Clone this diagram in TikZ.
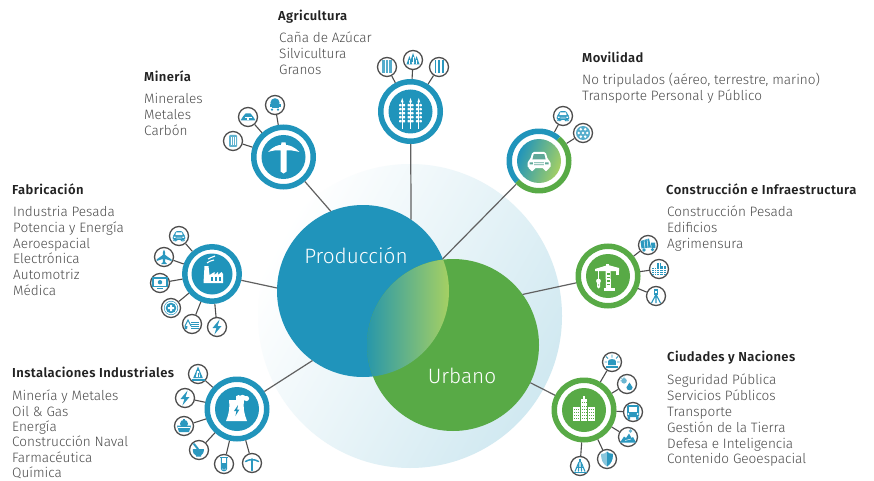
\documentclass[tikz,border=0pt]{standalone}
\usepackage{fontspec}
\setmainfont{Fira Sans}
\newfontfamily\lightf{Fira Sans Light}
\newfontfamily\semif[LetterSpace=3]{Fira Sans SemiBold}
\definecolor{bl}{HTML}{2094BB}
\definecolor{gr}{HTML}{58AA46}
\definecolor{ic}{HTML}{2B98BF}
\definecolor{ink}{HTML}{4C4C4C}
\definecolor{ringc}{HTML}{4D4D4D}
\definecolor{ttl}{HTML}{222222}
\definecolor{lg}{HTML}{A5D063}
\definecolor{mid}{HTML}{5FA898}
\tikzset{
  hubc/.style={circle,fill=white,line width=5.5pt,inner sep=0pt},
  smallc/.style={circle,draw=ringc,fill=white,line width=1.3pt,minimum size=19pt,inner sep=0pt},
  conn/.style={draw=ringc,line width=1.1pt},
  mainconn/.style={draw=black!62,line width=1.2pt},
  ttlnode/.style={anchor=west,inner sep=0pt,yshift=.6pt,text=ttl,font=\semif\fontsize{13}{15}\selectfont},
  txtnode/.style={anchor=north west,inner sep=0pt,align=left,text=ink,font=\lightf\fontsize{13.6}{15.8}\selectfont},
  bigtxt/.style={text=white,inner sep=0pt,font=\lightf\fontsize{20.8}{22}\selectfont},
  % large white icons
  pics/pickaxe/.style={code={
    \fill[white] (-15.5,-5) .. controls (-10,-11) and (-5,-12) .. (-2.5,-12) -- (-2,-14.5) -- (2,-14.5) -- (2.5,-12) .. controls (6,-12) and (11,-10) .. (16,-5) .. controls (10,-6.5) and (6,-7) .. (3,-6.5) -- (3,14.5) -- (0,16.5) -- (-3,14.5) -- (-3,-6.5) .. controls (-7,-7) and (-11,-6.5) .. (-15.5,-5) -- cycle;
  }},
  pics/wheat/.style={code={
    \foreach \s in {-8.3,0,8.3}{
      \draw[white,line width=.7pt] (\s,-10) -- (\s,18);
      \fill[white] (\s-1.5,-9) -- (\s,-13.5) -- (\s+1.5,-9) -- cycle;
      \foreach \r in {-7.5,-3.5,.5,4.5,8.5}{
        \fill[white,rounded corners=.7pt] (\s-3,\r) rectangle (\s-.5,\r+2.5);
        \fill[white,rounded corners=.7pt] (\s+.5,\r) rectangle (\s+3,\r+2.5);
      }
    }
  }},
  pics/factory/.style={code={
    \fill[white] (-7.5,-8) -- (-3.5,-8) -- (-2.5,1) -- (2.5,-2) -- (2.5,1) -- (6,-2) -- (6,1) -- (9.5,-2) -- (11,0) -- (11,9) -- (-8.5,9) -- cycle;
    \foreach \s in {-1.5,2.5,6.5}{\fill[bl] (\s,3) rectangle (\s+2.2,7);}
    \draw[white,line width=1.1pt] (-5,-11) .. controls (-3,-14) and (-1,-12) .. (2,-14);
    \draw[white,line width=1.1pt] (-4,-15) .. controls (-2,-17) and (0,-16) .. (3,-18);
  }},
  pics/tower/.style={code={
    \fill[white] (-8,-9) -- (7,-9) .. controls (6,-2) and (7,5) .. (10,12) -- (-11,12) .. controls (-8,5) and (-7,-2) .. (-8,-9) -- cycle;
    \fill[white] (5.5,-11) circle[radius=3.2pt] (1.5,-11.5) circle[radius=2.4pt] (9.5,-10.5) circle[radius=2.6pt];
    \fill[white] (-1,-13) rectangle (9,-9.5);
    \fill[bl] (1,-4) -- (-3,2) -- (-.6,2) -- (-1.6,7) -- (2.4,.5) -- (.2,.5) -- cycle;
  }},
  pics/crane/.style={code={
    \fill[white] (-13,-7) -- (0,-11) -- (11,-8) -- (11,-5) -- (-13,-5) -- cycle;
    \fill[white] (-2,-12) rectangle (1,-8);
    \fill[white] (-2.5,-5) -- (2.5,-5) -- (3,12) -- (-2,12) -- cycle;
    \foreach \r in {-3,0.5,4,7.5}{\fill[gr] (-1,\r) rectangle (1.5,\r+1.6);}
    \fill[white] (-4.5,12) rectangle (7,14.5);
    \draw[white,line width=.9pt] (-9.5,-5) -- (-9.5,3);
    \fill[white] (-9.5,5) circle[radius=2.4pt];
    \fill[white] (-11,7) -- (-8,7) -- (-8,11) -- (-9.5,12.5) -- (-11,11) -- cycle;
    \fill[gr] (-9.5,9) circle[radius=.6pt];
    \fill[white] (8,-5) rectangle (11,-1);
  }},
  pics/city/.style={code={
    \fill[white] (-11.5,-3) rectangle (-4.5,11);
    \fill[white] (-3.5,-11) rectangle (3,11);
    \fill[white] (-1.5,-14) rectangle (1,-10);
    \fill[white] (4,-3) rectangle (11,11);
    \foreach \s in {-10.5,-8.4,-6.3,-2.4,-.3,1.8,5,7.1,9.2}{
      \foreach \r in {-1,2,5,8}{\fill[gr] (\s,\r) rectangle (\s+.7,\r+1.2);}
    }
    \foreach \s in {-2.4,-.3,1.8}{\foreach \r in {-8,-4.5}{\fill[gr] (\s,\r) rectangle (\s+.7,\r+1.2);}}
  }},
  pics/bigcar/.style={code={\carshape{white}{mid}}},
  % small icons
  pics/scar/.style={code={\begin{scope}[scale=.55]\carshape{ic}{white}\end{scope}}},
  pics/swheat/.style={code={
    \foreach \s in {-3.6,0,3.6}{\draw[ic!80,line width=2.8pt,dash pattern=on 1.5pt off .5pt] (\s,-6.5) -- (\s,6.5);}
  }},
  pics/strees/.style={code={
    \fill[ic] (-3.6,-4) -- (-.6,4.5) -- (-6.6,4.5) -- cycle;
    \fill[ic] (3.6,-4) -- (6.6,4.5) -- (.6,4.5) -- cycle;
    \fill[ic] (0,-7) -- (3,2) -- (-3,2) -- cycle;
    \draw[white,line width=.5pt] (-3.6,0) -- (-3.6,4.5) (3.6,0) -- (3.6,4.5) (0,-3) -- (0,2);
  }},
  pics/sstalk/.style={code={
    \foreach \s in {-3.6,0,3.6}{\draw[ic,line width=1.8pt,dash pattern=on 1.5pt off .5pt] (\s,-6.5) -- (\s,6.5);}
  }},
  pics/sore/.style={code={
    \fill[ic!75,rounded corners=1pt] (-4,-6) rectangle (4,6);
    \draw[white,line width=.5pt] (-2,-4) -- (-2,4) (0,-4) -- (0,4) (2,-4) -- (2,4);
  }},
  pics/spile/.style={code={
    \fill[ic] (-7.5,3.5) -- (-5,-.5) -- (-2.5,-3.5) -- (2.5,-3.5) -- (5,-.5) -- (7.5,3.5) -- cycle;
    \fill[white] (-.8,.5) rectangle (.8,3.5);
    \fill[white] (-3.5,-.3) rectangle (3.5,.6);
  }},
  pics/scart/.style={code={
    \fill[ic] (0,-2.2) circle[radius=4.6pt];
    \fill[ic] (-5.5,-.5) rectangle (5.5,1.8);
    \fill[ic] (-3.5,1.8) rectangle (3.5,3.5);
    \fill[ic] (-3,4.6) circle[radius=1.2pt] (3,4.6) circle[radius=1.2pt];
  }},
  pics/smonitor/.style={code={
    \draw[ic,line width=1.2pt] (-7,-5) rectangle (7,3.5);
    \draw[ic,line width=1.2pt] (-3,5.8) -- (3,5.8);
    \fill[ic] (0,-.8) circle[radius=2.2pt];
  }},
  pics/splane/.style={code={
    \fill[ic] (0,-7.5) .. controls (1.4,-6) and (1.2,-3) .. (1.2,-2) -- (7.5,2.5) -- (7.5,4) -- (1.2,2) -- (1,5) -- (3,7) -- (-3,7) -- (-1,5) -- (-1.2,2) -- (-7.5,4) -- (-7.5,2.5) -- (-1.2,-2) .. controls (-1.2,-3) and (-1.4,-6) .. (0,-7.5) -- cycle;
  }},
  pics/smed/.style={code={
    \draw[ic,line width=.5pt] (0,0) circle[radius=6.8pt];
    \fill[ic] (0,0) circle[radius=5.3pt];
    \fill[white] (-1,-3.2) rectangle (1,3.2) (-3.2,-1) rectangle (3.2,1);
  }},
  pics/sdig/.style={code={
    \fill[ic] (-1,-2) rectangle (7,4.5);
    \foreach \r in {-.8,1,2.8}{\fill[white] (-1,\r) rectangle (7,\r+.6);}
    \draw[ic,line width=1.1pt] (-1,2) -- (-4,-4) -- (-7,2);
    \fill[ic] (-7.5,2) -- (-4.5,2) -- (-5,5) -- (-7.5,5) -- cycle;
  }},
  pics/sbolt/.style={code={
    \fill[ic] (2.6,-7.5) -- (-4.5,1) -- (-.6,1) -- (-2.6,7.5) -- (4.5,-1) -- (.6,-1) -- cycle;
  }},
  pics/sderrick/.style={code={
    \fill[ic] (0,-7.5) -- (4.8,4) -- (-4.8,4) -- cycle;
    \fill[white] (-.9,-3) -- (.9,-3) -- (2.1,3) -- (-2.1,3) -- cycle;
    \fill[ic] (-.4,-1.5) rectangle (.4,3);
    \fill[ic] (-6.5,4.5) rectangle (6.5,6.5);
  }},
  pics/sship/.style={code={
    \fill[ic] (0,-2.2) circle[radius=4pt];
    \fill[ic] (-1,-7.5) rectangle (1,-4);
    \fill[ic] (-7,-.5) -- (7,-.5) -- (5,6) -- (-5,6) -- cycle;
    \draw[white,line width=.5pt] (-6,1.5) -- (6,1.5);
  }},
  pics/smortar/.style={code={
    \fill[ic] (-6.2,-1) -- (5,-1) .. controls (5,3) and (3,5) .. (2,5.5) -- (2,6.5) -- (-3,6.5) -- (-3,5.5) .. controls (-5,5) and (-6.2,3) .. (-6.2,-1) -- cycle;
    \draw[ic,line width=2pt,line cap=round] (-1,-1) -- (-5,-6);
  }},
  pics/stube/.style={code={
    \draw[ic,line width=1pt] (-2.6,-6.5) -- (-2.6,4.5) .. controls (-2.6,7.5) and (2.6,7.5) .. (2.6,4.5) -- (2.6,-6.5);
    \draw[ic,line width=1pt] (-3.6,-6.5) -- (3.6,-6.5);
    \fill[ic] (-1.9,-1) -- (1.9,-1) -- (1.9,4.3) .. controls (1.9,6.5) and (-1.9,6.5) .. (-1.9,4.3) -- cycle;
  }},
  pics/spick/.style={code={
    \draw[ic,line width=1.5pt,line cap=round] (0,-4) -- (0,7.5);
    \draw[ic,line width=1.5pt,line cap=round] (-6.5,-1.5) .. controls (-3,-4) and (3,-4) .. (6.5,-1.5);
  }},
  pics/sfrost/.style={code={
    \fill[ic!80] (0,0) circle[radius=7pt];
    \foreach \a in {0,60,...,300}{\fill[white] (\a:4.3pt) circle[radius=1.4pt];}
    \fill[white] (0,0) circle[radius=1.4pt];
  }},
  pics/struck/.style={code={
    \fill[ic] (-7.5,-4) -- (1,-6.5) -- (3,2.5) -- (-6.5,3.5) -- cycle;
    \fill[ic] (3,-2.5) -- (7,-2.5) -- (7.5,3) -- (3.5,3) -- cycle;
    \draw[white,line width=.5pt] (-4,-5) -- (-3,3.5) (-1,-6) -- (0,3);
    \fill[ic] (-4,5) circle[radius=1.8pt] (4.5,4.6) circle[radius=1.8pt];
  }},
  pics/sbars/.style={code={
    \foreach \s/\t in {-7/-1,-2.3/-6,2.4/-3}{
      \fill[ic] (\s,\t) rectangle (\s+4.3,6);
      \draw[white,line width=.35pt] (\s+2.15,\t) -- (\s+2.15,6);
      \foreach \r in {0,2.2,4.4}{\draw[white,line width=.35pt] (\s,\r) -- (\s+4.3,\r);}
    }
  }},
  pics/ssurvey/.style={code={
    \fill[ic] (-2.2,-7) rectangle (2.2,-1.5);
    \fill[white] (-.9,-5.5) rectangle (.9,-3.5);
    \draw[ic,line width=1.1pt] (0,-1.5) -- (-4.5,7) (0,-1.5) -- (4.5,7) (0,-1.5) -- (0,7);
  }},
  pics/ssiren/.style={code={
    \fill[ic] (-3.8,3) -- (-3.8,-1) .. controls (-3.8,-3.5) and (3.8,-3.5) .. (3.8,-1) -- (3.8,3) -- cycle;
    \fill[ic] (-6,3.5) rectangle (6,5.6);
    \draw[ic,line width=.8pt] (0,-4.5) -- (0,-7.5) (-4,-3.5) -- (-6,-5.5) (4,-3.5) -- (6,-5.5) (-5,0) -- (-7.5,0) (5,0) -- (7.5,0);
  }},
  pics/sdrop/.style={code={
    \fill[ic!70] (-3,-3.2) circle[radius=2.8pt];
    \draw[ic!70,line width=.6pt] (-3,-6.2) -- (-3,-7.6) (-6,-3.2) -- (-7.2,-3.2) (-5.2,-5.4) -- (-6.2,-6.4);
    \fill[ic] (2.5,-1.5) -- (5.6,3.4) .. controls (5.6,7.2) and (-.6,7.2) .. (-.6,3.4) -- cycle;
  }},
  pics/sbus/.style={code={
    \fill[ic,rounded corners=1.2pt] (-6,-7) rectangle (6,5);
    \fill[white] (-4.4,-4.8) rectangle (4.4,-.3);
    \fill[white] (-4.6,2) circle[radius=1pt] (4.6,2) circle[radius=1pt];
    \fill[ic] (-5.5,5) rectangle (-3,7.5) (3,5) rectangle (5.5,7.5);
  }},
  pics/smount/.style={code={
    \fill[ic] (-8,5.5) -- (-4,-.5) -- (-2,1) -- (1,-3.5) -- (3.5,1) -- (5,0) -- (8,5.5) -- cycle;
    \fill[ic!70] (2.5,-6) circle[radius=1.8pt];
    \draw[white,line width=.5pt] (-3,3.5) -- (3,2);
  }},
  pics/sshield/.style={code={
    \fill[ic!55] (-6,-5) .. controls (-3,-5) and (-1,-6) .. (0,-7.5) .. controls (1,-6) and (3,-5) .. (6,-5) .. controls (6,1) and (4,5) .. (0,7.5) .. controls (-4,5) and (-6,1) .. (-6,-5) -- cycle;
    \fill[ic] (0,-7.5) .. controls (1,-6) and (3,-5) .. (6,-5) .. controls (6,1) and (4,5) .. (0,7.5) -- cycle;
  }},
  pics/sdish/.style={code={
    \fill[ic] (-1,-7) rectangle (1,-4);
    \fill[ic] (-6.5,5.5) rectangle (6.5,7);
    \draw[ic,line width=1.1pt] (-1,-4) -- (-5,5.5) (1,-4) -- (5,5.5) (-1,-4) -- (-1.6,5.5) (1,-4) -- (1.6,5.5);
    \draw[ic,line width=.6pt] (-4.4,1.5) -- (4.4,1.5);
  }},
}
\newcommand{\carshape}[2]{%
  \fill[#1,rounded corners=1.5pt] (-8.8,-1.5) -- (-6.6,-9) -- (6.6,-9) -- (8.8,-1.5) -- (11.5,.5) -- (11.5,7) -- (8.8,7) -- (8.8,10) -- (5,10) -- (5,7) -- (-5,7) -- (-5,10) -- (-8.8,10) -- (-8.8,7) -- (-11.5,7) -- (-11.5,.5) -- cycle;
  \fill[#2] (-5.3,-6.8) -- (5.3,-6.8) -- (6.6,-1.6) -- (-6.6,-1.6) -- cycle;
  \fill[#2] (-9.5,1.3) rectangle (-6.2,3.4) (9.5,1.3) rectangle (6.2,3.4);
  \fill[#2] (-4.8,1.5) rectangle (4.8,2.2) (-4.8,3.4) rectangle (4.8,4.1);
}
\newcommand{\hubdraw}[7]{% name,x,y,colour,outer radius,disc radius,icon
  \node[hubc,draw=#4,minimum size={2*#5pt-5.5pt}] (#1) at (#2,#3) {};
  \fill[#4] (#1) circle[radius=#6pt];
  \pic at (#1) {#7};
}
\newcommand{\smallhub}[5]{% name,x,y,icon,hub
  \node[smallc] (#1) at (#2,#3) {};
  \pic at (#1) {#4};
  \draw[conn] (#5) -- (#1);
}
\begin{document}
\begin{tikzpicture}[x=1pt,y=-1pt]
\useasboundingbox (0,0) rectangle (874,481);
\fill[white] (0,0) rectangle (874,481);
% halo and two domains
\shade[left color=white,middle color=bl!5,right color=bl!21,shading angle=60] (410,316) circle[radius=152pt];
\node[circle,fill=bl,minimum size=172pt,inner sep=0pt,outer sep=0pt] (prod) at (363,291) {};
\node[circle,fill=gr,minimum size=172pt,inner sep=0pt,outer sep=0pt] (urb) at (453,345) {};
\begin{scope}
  \clip (363,291) circle[radius=86pt];
  \clip (453,345) circle[radius=86pt];
  \shade[left color=bl!85!gr,middle color=mid!60!lg,right color=lg] (367,250) rectangle (449,380);
\end{scope}
\node[bigtxt] (prodlbl) at (356,255) {Producción};
\node[bigtxt] (urblbl) at (462,376) {Urbano};
% hubs
\hubdraw{mine}{283.5}{157}{bl}{32.5}{22}{pickaxe}
\hubdraw{agri}{410.5}{111.5}{bl}{32.5}{22}{wheat}
\hubdraw{fab}{212}{274}{bl}{30}{20.5}{factory}
\hubdraw{inst}{237}{409}{bl}{32.5}{22}{tower}
\hubdraw{cons}{608}{276}{gr}{32.5}{22}{crane}
\hubdraw{city}{584}{410}{gr}{32.5}{22}{city}
% mobility hub: two-coloured ring, gradient disc
\node[circle,fill=white,minimum size=65pt,inner sep=0pt] (mov) at (539,161) {};
\draw[bl,line width=5.5pt] plot[domain=49:223,samples=40] ({539+29.75*cos(\x)},{161-29.75*sin(\x)});
\draw[gr,line width=5.5pt] plot[domain=223:409,samples=40] ({539+29.75*cos(\x)},{161-29.75*sin(\x)});
\shade[left color=bl,right color=lg,shading angle=70] (539,161) circle[radius=22pt];
\pic at (mov) {bigcar};
% main connectors
\draw[mainconn] (mine) -- (prod.112);
\draw[mainconn] (agri) -- (prod.56);
\draw[mainconn] (mov) -- (prod.22);
\draw[mainconn] (fab) -- (prod.178);
\draw[mainconn] (inst) -- (prod.234);
\draw[mainconn] (cons) -- (urb.36);
\draw[mainconn] (city) -- (urb.-26);
% satellites
\smallhub{m1}{233}{141}{sore}{mine}
\smallhub{m2}{248}{117}{spile}{mine}
\smallhub{m3}{275}{105}{scart}{mine}
\smallhub{a1}{387}{67}{swheat}{agri}
\smallhub{a2}{413}{60}{strees}{agri}
\smallhub{a3}{439}{67}{sstalk}{agri}
\smallhub{v1}{563}{116}{scar}{mov}
\smallhub{v2}{583}{133}{sfrost}{mov}
\smallhub{c1}{648}{245}{struck}{cons}
\smallhub{c2}{659}{269}{sbars}{cons}
\smallhub{c3}{656}{296}{ssurvey}{cons}
\smallhub{u1}{612}{362}{ssiren}{city}
\smallhub{u2}{627}{384}{sdrop}{city}
\smallhub{u3}{633}{412}{sbus}{city}
\smallhub{u4}{628}{437}{smount}{city}
\smallhub{u5}{607}{459}{sshield}{city}
\smallhub{u6}{580}{466}{sdish}{city}
\smallhub{f1}{179}{236}{scar}{fab}
\smallhub{f2}{164}{257}{splane}{fab}
\smallhub{f3}{160}{283}{smonitor}{fab}
\smallhub{f4}{171}{308}{smed}{fab}
\smallhub{f5}{192}{324}{sdig}{fab}
\smallhub{f6}{217}{327}{sbolt}{fab}
\smallhub{i1}{198}{374}{sderrick}{inst}
\smallhub{i2}{185}{398}{sbolt}{inst}
\smallhub{i3}{184}{426}{sship}{inst}
\smallhub{i4}{199}{450}{smortar}{inst}
\smallhub{i5}{224}{464}{stube}{inst}
\smallhub{i6}{252}{463}{spick}{inst}
% labels
\node[ttlnode] (t1) at (278,17) {Agricultura};
\node[txtnode] (b1) at (279,32) {Caña de Azúcar\\Silvicultura\\Granos};
\node[ttlnode] (t2) at (144,77) {Minería};
\node[txtnode] (b2) at (144,93) {Minerales\\Metales\\Carbón};
\node[ttlnode] (t3) at (582,58) {Movilidad};
\node[txtnode] (b3) at (582,73) {No tripulados (aéreo, terrestre, marino)\\Transporte Personal y Público};
\node[ttlnode] (t4) at (666,190) {Construcción e Infraestructura};
\node[txtnode] (b4) at (667,206) {Construcción Pesada\\Edificios\\Agrimensura};
\node[ttlnode] (t5) at (667,358) {Ciudades y Naciones};
\node[txtnode] (b5) at (667,374) {Seguridad Pública\\Servicios Públicos\\Transporte\\Gestión de la Tierra\\Defesa e Inteligencia\\Contenido Geoespacial};
\node[ttlnode] (t6) at (12,190) {Fabricación};
\node[txtnode] (b6) at (13,206) {Industria Pesada\\Potencia y Energía\\Aeroespacial\\Electrónica\\Automotriz\\Médica};
\node[ttlnode] (t7) at (12,373) {Instalaciones Industriales};
\node[txtnode,font=\lightf\fontsize{13.6}{15.3}\selectfont] (b7) at (12,390) {Minería y Metales\\Oil \& Gas\\Energía\\Construcción Naval\\Farmacéutica\\Química};
\end{tikzpicture}
\end{document}
